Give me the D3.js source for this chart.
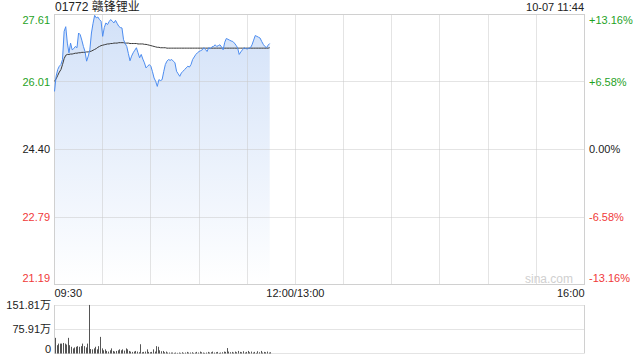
<!DOCTYPE html>
<html lang="zh">
<head>
<meta charset="UTF-8">
<title>01772 赣锋锂业</title>
<script src="https://d3js.org/d3.v7.min.js"></script>
<style>
  body { margin: 0; background: #fff; }
  svg { display: block; font-family: "Liberation Sans", Arial, "Noto Sans CJK SC", sans-serif; }
</style>
</head>
<body>
<div id="chart"></div>
<script>
// minute-by-minute prices from 09:30 to 11:44
var prices = [25.78,26.14,26.30,26.38,26.42,26.54,27.21,27.32,26.93,26.70,
  26.93,26.77,26.80,26.85,26.82,27.17,27.13,27.00,26.85,26.73,
  26.50,26.62,26.77,27.17,27.40,27.59,27.53,27.55,27.49,27.45,
  27.09,27.30,27.41,27.37,27.44,27.49,27.45,27.41,27.47,27.40,
  27.33,27.30,27.29,27.01,26.92,26.85,26.68,26.51,26.62,26.70,
  26.76,26.82,26.70,26.58,26.66,26.55,26.46,26.34,26.38,26.42,
  26.38,26.25,26.10,26.02,25.90,26.06,26.04,26.06,26.25,26.42,
  26.50,26.54,26.52,26.54,26.50,26.46,26.26,26.20,26.14,26.22,
  26.26,26.30,26.34,26.38,26.36,26.42,26.54,26.60,26.66,26.70,
  26.73,26.75,26.77,26.82,26.78,26.73,26.82,26.80,26.84,26.85,
  26.89,26.85,26.87,26.89,26.84,26.77,26.95,27.04,27.02,27.00,
  26.98,26.97,26.93,26.88,26.82,26.66,26.72,26.77,26.82,26.80,
  26.79,26.81,26.82,26.89,27.00,27.11,27.09,27.07,27.05,26.97,
  26.90,26.85,26.82,26.88,26.92];

// average price line
var avgPrices = [26.02,26.08,26.16,26.24,26.30,26.42,26.56,26.64,26.66,26.66,
  26.67,26.67,26.68,26.69,26.69,26.70,26.70,26.71,26.71,26.71,
  26.72,26.72,26.73,26.74,26.76,26.78,26.80,26.83,26.85,26.87,
  26.88,26.89,26.90,26.91,26.91,26.92,26.92,26.93,26.93,26.93,
  26.94,26.94,26.94,26.94,26.93,26.93,26.93,26.92,26.92,26.92,
  26.92,26.92,26.91,26.91,26.91,26.91,26.90,26.90,26.89,26.88,
  26.87,26.86,26.85,26.84,26.83,26.83,26.82,26.82,26.82,26.82,
  26.81,26.81,26.81,26.81,26.81,26.81,26.81,26.81,26.81,26.81,
  26.81,26.81,26.81,26.81,26.81,26.81,26.81,26.81,26.81,26.81,
  26.81,26.81,26.81,26.81,26.81,26.81,26.81,26.81,26.81,26.81,
  26.81,26.81,26.81,26.81,26.81,26.81,26.81,26.81,26.81,26.81,
  26.81,26.81,26.81,26.81,26.81,26.81,26.81,26.81,26.81,26.81,
  26.81,26.81,26.81,26.81,26.81,26.81,26.81,26.81,26.81,26.81,
  26.81,26.81,26.81,26.81,26.82];

// volume per minute, in 万
var volumes = [49,26,31,31,31,33,31,28,49,26,
  21,16,19,21,23,21,23,31,23,19,
  31,152,14,13,16,21,13,23,52,16,
  10,13,8,6,10,16,8,6,8,10,
  13,10,13,9,16,13,8,6,5,6,
  8,6,4,29,4,5,6,13,5,4,
  5,13,6,23,21,10,7,8,4,6,
  3,3,3,3,2,3,2,3,2,4,
  2,3,5,3,3,4,2,3,5,3,
  6,4,3,2,3,5,3,4,6,3,
  4,5,2,3,4,6,5,17,6,4,
  5,3,6,4,8,5,4,7,3,5,
  8,4,6,3,5,2,7,4,8,3,
  5,4,6,3,4];

var priceTicks = [27.61, 26.01, 24.40, 22.79, 21.19];
var pctTicks = ["+13.16%", "+6.58%", "0.00%", "-6.58%", "-13.16%"];
var tickColors = ["#1fa21f", "#1fa21f", "#222", "#f03a3a", "#f03a3a"];
var timeTicks = ["09:30", "12:00/13:00", "16:00"];
var timeTickMinutes = [0, 150, 330];
var volTicks = [151.81, 75.91, 0];
var volTickLabels = ["151.81万", "75.91万", "0"];

var W = 640, H = 360;
var pLeft = 54.5, pRight = 584.5, pTop = 14.5, pBottom = 284.5;
var vTop = 305, vBottom = 353.5;

var svg = d3.select("#chart").append("svg")
  .attr("width", W).attr("height", H);

var x = d3.scaleLinear().domain([0, 330]).range([pLeft, pRight]);
var y = d3.scaleLinear().domain([21.19, 27.61]).range([pBottom, pTop]);
var yv = d3.scaleLinear().domain([0, 151.81]).range([vBottom, vTop]);

function px(v) { return Math.round(v - 0.5) + 0.5; }

// gradient for area fill
var defs = svg.append("defs");
var grad = defs.append("linearGradient").attr("id", "fillGrad")
  .attr("gradientUnits", "userSpaceOnUse")
  .attr("x1", 0).attr("y1", pTop).attr("x2", 0).attr("y2", pBottom);
grad.append("stop").attr("offset", "0%").attr("stop-color", "#d2e1f8");
grad.append("stop").attr("offset", "100%").attr("stop-color", "#ffffff");

// area under price line
var area = d3.area()
  .x(function(d, i) { return x(i); })
  .y0(pBottom)
  .y1(function(d) { return y(d); });
svg.append("path")
  .datum(prices)
  .attr("d", area)
  .attr("fill", "url(#fillGrad)");

// horizontal gridlines (middle ones dotted)
svg.append("g").selectAll("line")
  .data(priceTicks.slice(1, 4))
  .enter().append("line")
  .attr("x1", pLeft).attr("x2", pRight)
  .attr("y1", function(d) { return px(y(d)); })
  .attr("y2", function(d) { return px(y(d)); })
  .attr("stroke", "#c8c8c8")
  .attr("stroke-dasharray", "1,1");

// vertical gridlines every 30 minutes
svg.append("g").selectAll("line")
  .data(d3.range(30, 330, 30))
  .enter().append("line")
  .attr("x1", function(d) { return px(x(d)); })
  .attr("x2", function(d) { return px(x(d)); })
  .attr("y1", pTop).attr("y2", pBottom)
  .attr("stroke", "#c8c8c8")
  .attr("stroke-dasharray", "1,1");

// frame
svg.append("rect")
  .attr("x", pLeft).attr("y", pTop)
  .attr("width", pRight - pLeft).attr("height", pBottom - pTop)
  .attr("fill", "none").attr("stroke", "#d0d0d0");

// average line
svg.append("path")
  .datum(avgPrices)
  .attr("d", d3.line().x(function(d, i) { return x(i); }).y(function(d) { return y(d); }))
  .attr("fill", "none").attr("stroke", "#3a3a3a").attr("stroke-width", 1);

// price line
svg.append("path")
  .datum(prices)
  .attr("d", d3.line().x(function(d, i) { return x(i); }).y(function(d) { return y(d); }))
  .attr("fill", "none").attr("stroke", "#4c8cf0").attr("stroke-width", 1);

// left price labels
svg.append("g").selectAll("text")
  .data(priceTicks)
  .enter().append("text")
  .attr("x", 50)
  .attr("y", function(d, i) {
    var yy = y(d);
    if (i === 0) yy += 6;
    if (i === priceTicks.length - 1) yy -= 6;
    return yy;
  })
  .attr("dy", "0.35em")
  .attr("text-anchor", "end")
  .attr("font-size", 11)
  .attr("fill", function(d, i) { return tickColors[i]; })
  .text(function(d) { return d.toFixed(2); });

// right percent labels
svg.append("g").selectAll("text")
  .data(pctTicks)
  .enter().append("text")
  .attr("x", 589)
  .attr("y", function(d, i) {
    var yy = y(priceTicks[i]);
    if (i === 0) yy += 6;
    if (i === pctTicks.length - 1) yy -= 6;
    return yy;
  })
  .attr("dy", "0.35em")
  .attr("text-anchor", "start")
  .attr("font-size", 11)
  .attr("fill", function(d, i) { return tickColors[i]; })
  .text(function(d) { return d; });

// time labels
svg.append("g").selectAll("text")
  .data(timeTicks)
  .enter().append("text")
  .attr("x", function(d, i) { return x(timeTickMinutes[i]); })
  .attr("y", 293.5)
  .attr("dy", "0.35em")
  .attr("text-anchor", function(d, i) { return i === 0 ? "start" : (i === 2 ? "end" : "middle"); })
  .attr("font-size", 11)
  .attr("fill", "#222")
  .text(function(d) { return d; });

// title and timestamp
svg.append("text")
  .attr("x", 55).attr("y", 11)
  .attr("font-size", 12).attr("fill", "#222")
  .text("01772 赣锋锂业");
svg.append("text")
  .attr("x", 584).attr("y", 11)
  .attr("text-anchor", "end")
  .attr("font-size", 11).attr("fill", "#222")
  .text("10-07 11:44");

// watermark
svg.append("text")
  .attr("x", 573).attr("y", 279)
  .attr("dy", "0.35em")
  .attr("text-anchor", "end")
  .attr("font-size", 12).attr("fill", "#d0d0d0")
  .text("sina.com");

// volume panel
svg.append("g").selectAll("line")
  .data(volTicks)
  .enter().append("line")
  .attr("x1", pLeft).attr("x2", pRight)
  .attr("y1", function(d) { return px(yv(d)); })
  .attr("y2", function(d) { return px(yv(d)); })
  .attr("stroke", "#c8c8c8")
  .attr("stroke-dasharray", "1,1");
svg.append("line")
  .attr("x1", pLeft).attr("x2", pLeft).attr("y1", vTop).attr("y2", vBottom)
  .attr("stroke", "#d0d0d0");
svg.append("line")
  .attr("x1", pRight).attr("x2", pRight).attr("y1", vTop).attr("y2", vBottom)
  .attr("stroke", "#d0d0d0");

svg.append("g").selectAll("line")
  .data(volumes)
  .enter().append("line")
  .attr("x1", function(d, i) { return px(x(i) + 1); })
  .attr("x2", function(d, i) { return px(x(i) + 1); })
  .attr("y1", yv(0))
  .attr("y2", function(d) { return yv(d); })
  .attr("stroke", "#555")
  .attr("stroke-width", 1);

svg.append("g").selectAll("text")
  .data(volTickLabels)
  .enter().append("text")
  .attr("x", 51)
  .attr("y", function(d, i) { return yv(volTicks[i]) - (i === 2 ? 4 : 0); })
  .attr("dy", "0.35em")
  .attr("text-anchor", "end")
  .attr("font-size", 11)
  .attr("fill", "#222")
  .text(function(d) { return d; });
</script>
</body>
</html>
